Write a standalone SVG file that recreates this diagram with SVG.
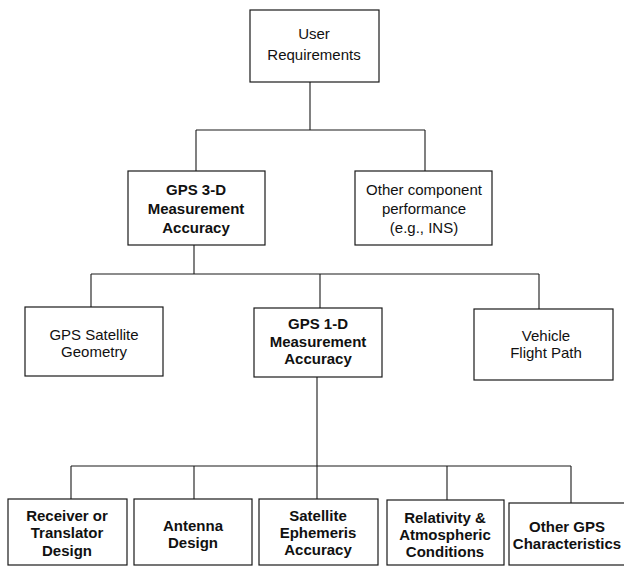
<svg xmlns="http://www.w3.org/2000/svg" width="624" height="567" viewBox="0 0 624 567">
<style>
rect.box{fill:#fff;stroke:#1a1a1a;stroke-width:1.2}
.c{fill:none;stroke:#1a1a1a;stroke-width:1.1}
text{font-family:"Liberation Sans",Arial,sans-serif;font-size:15px;fill:#111;text-anchor:middle}
text.b{font-weight:bold}
</style>
<rect width="624" height="567" fill="#fff"/>
<g id="connectors">
<path class="c" d="M310 82V130M196 130H425M196 130V171M425 130V171"/>
<path class="c" d="M194 245V274M91 274H539M91 274V307M320 274V308M539 274V309"/>
<path class="c" d="M317 377V499M71 466H571M71 466V499M194 466V499M447 466V500M571 466V503"/>
</g>
<g id="n-user"><rect class="box" x="250" y="10" width="129" height="72"/><text x="314" y="39">User</text><text x="314" y="60">Requirements</text></g>
<g id="n-gps3d"><rect class="box" x="128" y="171" width="137" height="74"/><text class="b" x="196" y="195">GPS 3-D</text><text class="b" x="196" y="214">Measurement</text><text class="b" x="196" y="233">Accuracy</text></g>
<g id="n-other"><rect class="box" x="355" y="171" width="137" height="74"/><text x="424" y="195">Other component</text><text x="424" y="214">performance</text><text x="424" y="233">(e.g., INS)</text></g>
<g id="n-geom"><rect class="box" x="25" y="307" width="138" height="69"/><text x="94" y="340">GPS Satellite</text><text x="94" y="357">Geometry</text></g>
<g id="n-gps1d"><rect class="box" x="254" y="308" width="128" height="69"/><text class="b" x="318" y="329">GPS 1-D</text><text class="b" x="318" y="347">Measurement</text><text class="b" x="318" y="364">Accuracy</text></g>
<g id="n-vehicle"><rect class="box" x="474" y="309" width="139" height="71"/><text x="546" y="341">Vehicle</text><text x="546" y="358">Flight Path</text></g>
<g id="n-receiver"><rect class="box" x="8" y="499" width="119" height="66"/><text class="b" x="67" y="521">Receiver or</text><text class="b" x="67" y="538">Translator</text><text class="b" x="67" y="556">Design</text></g>
<g id="n-antenna"><rect class="box" x="134" y="499" width="118" height="66"/><text class="b" x="193" y="531">Antenna</text><text class="b" x="193" y="548">Design</text></g>
<g id="n-ephem"><rect class="box" x="259" y="499" width="119" height="66"/><text class="b" x="318" y="521">Satellite</text><text class="b" x="318" y="538">Ephemeris</text><text class="b" x="318" y="555">Accuracy</text></g>
<g id="n-relativity"><rect class="box" x="387" y="500" width="117" height="65"/><text class="b" x="445" y="523">Relativity &amp;</text><text class="b" x="445" y="540">Atmospheric</text><text class="b" x="445" y="557">Conditions</text></g>
<g id="n-othergps"><rect class="box" x="509" y="503" width="120" height="62"/><text class="b" x="567" y="532">Other GPS</text><text class="b" x="567" y="549">Characteristics</text></g>
</svg>
